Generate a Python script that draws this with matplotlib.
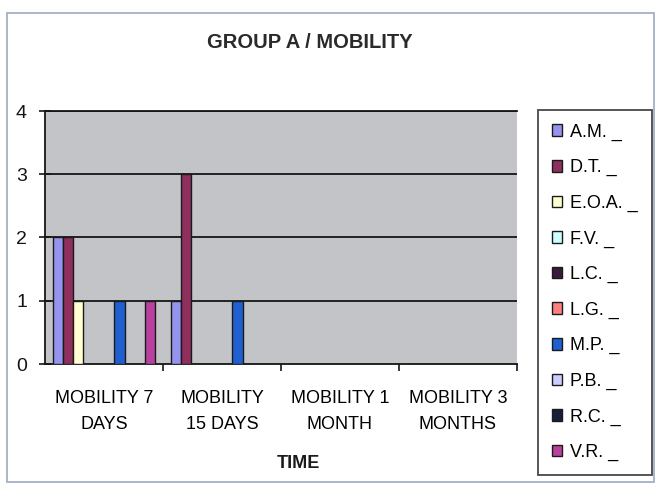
import matplotlib

matplotlib.use("Agg")
import matplotlib.pyplot as plt
import numpy as np
from matplotlib.patches import Rectangle

plt.rcParams["font.family"] = ["Liberation Sans", "DejaVu Sans"]

categories = ["MOBILITY 7\nDAYS", "MOBILITY\n15 DAYS", "MOBILITY 1\nMONTH", "MOBILITY 3\nMONTHS"]
patients = ["A.M.", "D.T.", "E.O.A.", "F.V.", "L.C.", "L.G.", "M.P.", "P.B.", "R.C.", "V.R."]
values = {
    "A.M.": [2, 1, 0, 0],
    "D.T.": [2, 3, 0, 0],
    "E.O.A.": [1, 0, 0, 0],
    "F.V.": [0, 0, 0, 0],
    "L.C.": [0, 0, 0, 0],
    "L.G.": [0, 0, 0, 0],
    "M.P.": [1, 1, 0, 0],
    "P.B.": [0, 0, 0, 0],
    "R.C.": [0, 0, 0, 0],
    "V.R.": [1, 0, 0, 0],
}
colors = ["#9494EE", "#8E2F5E", "#FFFFD2", "#CCFFFF", "#3A1A3A", "#FF8080",
          "#1F5FD0", "#CCCCFF", "#14203A", "#B8409E"]
y_ticks = [0, 1, 2, 3, 4]

W, H = 656, 486
fig = plt.figure(figsize=(W / 100, H / 100), dpi=100)

# chart area frame
fig.add_artist(Rectangle((7 / W, 1 - 482 / H), 647 / W, 469 / H, transform=fig.transFigure,
                         fill=False, edgecolor="#9AAAC0", linewidth=1.2))

ax = fig.add_axes([45 / W, 1 - 364 / H, 472 / W, 253 / H])
ax.set_facecolor("#C2C4C8")

n = len(patients)
width = 1 / (n + 1.5)
x = np.arange(len(categories))
handles = []
for i, name in enumerate(patients):
    offset = (i - (n - 1) / 2) * width
    b = ax.bar(x + offset, values[name], width=width, color=colors[i],
               edgecolor="#1a1a1a", linewidth=1.0, label=name + " _", zorder=3)
    handles.append(b)

ax.set_xlim(-0.5, 3.5)
ax.set_ylim(0, 4)
for yv in y_ticks[1:]:
    ax.axhline(yv, color="#151515", linewidth=1.3, zorder=1)

ax.set_yticks(y_ticks)
ax.set_yticklabels([str(v) for v in y_ticks], fontsize=14)
ax.tick_params(axis="y", direction="inout", length=8, width=1.2, pad=9, colors="#151515")

ax.set_xticks(x)
ax.set_xticklabels(categories, fontsize=13, linespacing=1.7)
ax.tick_params(axis="x", which="major", length=0, pad=19)
ax.set_xticks(np.arange(0.5, 4, 1), minor=True)
ax.tick_params(axis="x", which="minor", direction="out", length=5, width=1.2, colors="#151515")

ax.spines["right"].set_visible(False)
for side in ["left", "bottom", "top"]:
    ax.spines[side].set_color("#151515")
    ax.spines[side].set_linewidth(1.3)

fig.text(310 / W, 1 - 43 / H, "GROUP A / MOBILITY", ha="center", va="center",
         fontsize=14.5, fontweight="bold", color="#2a2a2a")
fig.text(298 / W, 1 - 463 / H, "TIME", ha="center", va="center",
         fontsize=13, fontweight="bold", color="#1a1a1a")

leg = fig.legend(handles=handles, loc="upper left", bbox_to_anchor=(538 / W, 1 - 110 / H),
                 fontsize=13, frameon=True, fancybox=False, edgecolor="#1a1a1a",
                 handlelength=0.6, handleheight=0.6, handletextpad=0.45,
                 labelspacing=1.02, borderpad=0.75, borderaxespad=0)
leg.get_frame().set_linewidth(1.3)

fig.savefig("out.png", dpi=100)
